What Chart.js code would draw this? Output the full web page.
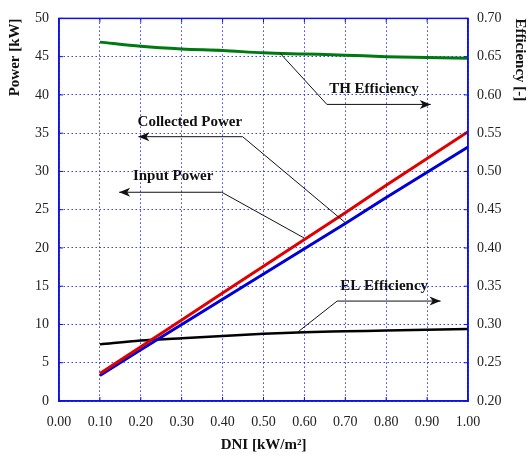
<!DOCTYPE html>
<html>
<head>
<meta charset="utf-8">
<script src="https://cdn.jsdelivr.net/npm/chart.js@4"></script>
<style>
	html, body { margin: 0; padding: 0; background: #fff; }
	canvas { display: block; }
</style>
</head>
<body>
<canvas id="chart" width="529" height="457"></canvas>
<script>
// Values
const dni = [0.1, 0.2, 0.3, 0.4, 0.5, 0.6, 0.7, 0.8, 0.9, 1.0];
const collectedPower = [3.6, 7.1, 10.6, 14.1, 17.6, 21.1, 24.6, 28.2, 31.7, 35.2];
const inputPower = [3.35, 6.7, 10.0, 13.3, 16.6, 19.9, 23.2, 26.6, 29.9, 33.2];
const thEfficiency = [0.669, 0.6635, 0.66, 0.658, 0.655, 0.6535, 0.652, 0.65, 0.649, 0.648];
const elEfficiency = [0.274, 0.279, 0.282, 0.285, 0.288, 0.29, 0.291, 0.292, 0.293, 0.294];

const serif = "'Liberation Serif', 'DejaVu Serif', serif";
const gridBlue = 'rgba(25, 25, 255, 0.85)';
const frameBlue = '#1010e6';

// Label / leader placement, in data units of x and the left axis
const notes = [
	{ text: 'Collected Power', at: [0.32, 36.5], path: [[0.699, 23.35], [0.449, 34.54], [0.194, 34.54]] },
	{ text: 'Input Power', at: [0.279, 29.4], path: [[0.599, 21.31], [0.398, 27.28], [0.147, 27.28]] },
	{ text: 'TH Efficiency', at: [0.77, 40.7], path: [[0.54, 45.48], [0.655, 38.76], [0.909, 38.76]] },
	{ text: 'EL Efficiency', at: [0.795, 15.0], path: [[0.584, 9.02], [0.68, 13.06], [0.933, 13.06]] },
];

function points(values) {
	return values.map((v, i) => ({ x: dni[i], y: v }));
}

function drawArrowHead(ctx, x, y, dir) {
	// dir: -1 points left, 1 points right
	ctx.beginPath();
	ctx.moveTo(x, y);
	ctx.lineTo(x - dir * 11, y - 4.5);
	ctx.lineTo(x - dir * 8, y);
	ctx.lineTo(x - dir * 11, y + 4.5);
	ctx.closePath();
	ctx.fill();
}

const framePlugin = {
	id: 'frame',
	afterDraw(chart) {
		const { ctx, chartArea: a, scales } = chart;
		ctx.save();
		ctx.strokeStyle = frameBlue;
		ctx.lineWidth = 1.5;
		ctx.strokeRect(a.left, a.top, a.right - a.left, a.bottom - a.top);
		// small inward ticks
		ctx.lineWidth = 1;
		scales.x.ticks.forEach((t) => {
			const px = scales.x.getPixelForValue(t.value);
			ctx.beginPath();
			ctx.moveTo(px, a.bottom); ctx.lineTo(px, a.bottom - 4);
			ctx.moveTo(px, a.top); ctx.lineTo(px, a.top + 4);
			ctx.stroke();
		});
		scales.y.ticks.forEach((t) => {
			const py = scales.y.getPixelForValue(t.value);
			ctx.beginPath();
			ctx.moveTo(a.left, py); ctx.lineTo(a.left + 4, py);
			ctx.moveTo(a.right, py); ctx.lineTo(a.right - 4, py);
			ctx.stroke();
		});
		ctx.restore();
	},
};

const notePlugin = {
	id: 'notes',
	afterDatasetsDraw(chart) {
		const { ctx, scales } = chart;
		const px = (p) => [scales.x.getPixelForValue(p[0]), scales.y.getPixelForValue(p[1])];
		ctx.save();
		ctx.strokeStyle = '#111';
		ctx.fillStyle = '#111';
		ctx.lineWidth = 1;
		notes.forEach((n) => {
			const pts = n.path.map(px);
			ctx.beginPath();
			ctx.moveTo(pts[0][0], pts[0][1]);
			for (let i = 1; i < pts.length; i++) ctx.lineTo(pts[i][0], pts[i][1]);
			ctx.stroke();
			const end = pts[pts.length - 1];
			const prev = pts[pts.length - 2];
			drawArrowHead(ctx, end[0], end[1], end[0] > prev[0] ? 1 : -1);

			const t = px(n.at);
			ctx.font = 'bold 15px ' + serif;
			ctx.textAlign = 'center';
			ctx.textBaseline = 'middle';
			ctx.fillText(n.text, t[0], t[1]);
		});
		ctx.restore();
	},
};

const tickFont = { family: serif, size: 14 };
const titleFont = { family: serif, size: 15, weight: 'bold' };

new Chart(document.getElementById('chart').getContext('2d'), {
	type: 'line',
	data: {
		datasets: [
			{ label: 'Collected Power', data: points(collectedPower), borderColor: '#e00000', borderWidth: 3, yAxisID: 'y' },
			{ label: 'Input Power', data: points(inputPower), borderColor: '#0000d8', borderWidth: 3, yAxisID: 'y' },
			{ label: 'TH Efficiency', data: points(thEfficiency), borderColor: '#007a10', borderWidth: 3, cubicInterpolationMode: 'monotone', yAxisID: 'y1' },
			{ label: 'EL Efficiency', data: points(elEfficiency), borderColor: '#000', borderWidth: 2.5, cubicInterpolationMode: 'monotone', yAxisID: 'y1' },
		],
	},
	options: {
		responsive: false,
		animation: false,
		layout: { padding: { top: 17, left: 0, right: 0, bottom: 0 } },
		elements: { point: { radius: 0 } },
		plugins: { legend: { display: false }, tooltip: { enabled: false } },
		scales: {
			x: {
				type: 'linear',
				min: 0,
				max: 1,
				afterFit: (s) => { s.height = 56; },
				ticks: { stepSize: 0.1, callback: (v) => v.toFixed(2), font: tickFont, color: '#222', padding: 13, maxRotation: 0 },
				grid: { color: gridBlue, drawTicks: false },
				border: { color: frameBlue, width: 1.5, dash: [1.5, 2.5] },
				title: { display: true, text: 'DNI [kW/m²]', font: titleFont, color: '#111', padding: { top: 0, bottom: 3 } },
			},
			y: {
				position: 'left',
				min: 0,
				max: 50,
				afterFit: (s) => { s.width = 59; },
				ticks: { stepSize: 5, font: tickFont, color: '#222', padding: 10 },
				grid: { color: gridBlue, drawTicks: false },
				border: { color: frameBlue, width: 1.5, dash: [1.5, 2.5] },
				title: { display: true, text: 'Power [kW]', align: 'end', font: titleFont, color: '#111', padding: { top: 6, bottom: 0 } },
			},
			y1: {
				position: 'right',
				min: 0.2,
				max: 0.7,
				afterFit: (s) => { s.width = 61; },
				ticks: { stepSize: 0.05, callback: (v) => v.toFixed(2), font: tickFont, color: '#222', padding: 9 },
				grid: { drawOnChartArea: false, drawTicks: false },
				border: { color: frameBlue, width: 1.5 },
				title: { display: true, text: 'Efficiency [-]', align: 'end', font: titleFont, color: '#111', padding: { top: 0, bottom: 0 } },
			},
		},
	},
	plugins: [framePlugin, notePlugin],
});
</script>
</body>
</html>
